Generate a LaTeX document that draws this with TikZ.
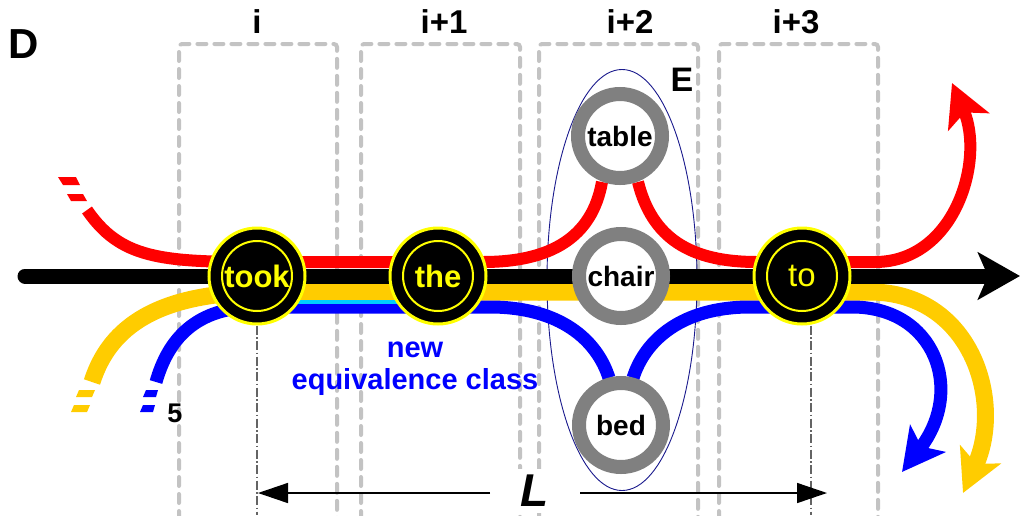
\documentclass[tikz,border=0pt]{standalone}
\usepackage{fontspec}
\setmainfont{Liberation Sans}
\usetikzlibrary{arrows.meta,shapes.geometric,calc}
\pgfdeclarelayer{back}
\pgfsetlayers{back,main}
\definecolor{lnred}{RGB}{255,0,0}
\definecolor{lnyel}{RGB}{255,204,0}
\definecolor{lnblue}{RGB}{0,0,255}
\definecolor{lncyan}{RGB}{0,204,255}
\definecolor{boxgray}{RGB}{195,195,195}
\definecolor{ringgray}{RGB}{128,128,128}
\definecolor{navyline}{RGB}{25,25,140}
\definecolor{wordyel}{RGB}{255,255,0}
\definecolor{dimgray}{RGB}{100,100,100}
\begin{document}
\begin{tikzpicture}[x=1pt,y=-1pt,
  colbox/.style={draw=boxgray,line width=4pt,dash pattern=on 9pt off 8pt,line cap=round,rounded corners=3pt},
  word/.style={circle,fill=black,draw=wordyel,line width=3pt,minimum size=96pt,inner sep=0pt,text=wordyel,font=\fontsize{31}{31}\selectfont\bfseries},
  innerring/.style={draw=wordyel,line width=2pt},
  alt/.style={circle,fill=white,draw=ringgray,line width=14pt,minimum size=84pt,inner sep=0pt,font=\fontsize{28}{28}\selectfont\bfseries},
  redlane/.style={draw=lnred,line width=12pt,line join=round},
  yellane/.style={draw=lnyel,line width=17pt,line join=round},
  bluelane/.style={draw=lnblue,line width=13pt,line join=round},
  cyanlane/.style={draw=lncyan,line width=3.5pt},
  blacklane/.style={draw=black,line width=15pt,line cap=round},
  bigtip/.style={-{Stealth[length=42pt,width=44pt,inset=10pt]}},
  dashdotline/.style={draw=dimgray,line width=1.3pt,dash pattern=on 9pt off 2.5pt on 1.5pt off 2.5pt},
  measure/.style={draw=black,line width=1.5pt,-{Triangle[length=30pt,width=20pt]}},
  collabel/.style={font=\fontsize{33}{33}\selectfont\bfseries},
  eqtext/.style={text=lnblue,font=\fontsize{29}{29}\selectfont\bfseries,inner sep=0pt}
]
\useasboundingbox (0,0) rectangle (1021,515);

% word nodes
\node[word] (took) at (257,276) {took};
\node[word] (the) at (438,276) {the};
\node[word,font=\fontsize{33}{33}\selectfont] (to) at (802,276) {to};
\draw[innerring] (took.center) circle[radius=35];
\draw[innerring] (the.center) circle[radius=35];
\draw[innerring] (to.center) circle[radius=35];

% alternatives
\node[alt] (table) at (620,136) {table};
\node[alt] (chair) at (621,276) {chair};
\node[alt] (bed) at (621,425) {bed};

% labels
\node[font=\fontsize{42}{42}\selectfont\bfseries] (D) at (24,44) {D};
\node[font=\fontsize{34}{34}\selectfont\bfseries] (E) at (682,80) {E};
\node[collabel] (ci) at (257,22) {i};
\node[collabel] (ci1) at (444,22) {i+1};
\node[collabel] (ci2) at (630,22) {i+2};
\node[collabel] (ci3) at (796,22) {i+3};
\node[font=\fontsize{27}{27}\selectfont\bfseries] (five) at (175,413) {5};
\node[eqtext,anchor=base] (neq1) at (415,357) {new};
\node[eqtext,anchor=base] (neq2) at (415,389) {equivalence class};
\node[fill=white,inner sep=0pt,minimum width=50pt,minimum height=44pt,font=\fontsize{46}{46}\selectfont\bfseries\itshape] (L) at (535,491) {L};

% free coordinates
\coordinate (floor) at (0,515);
\coordinate (rs) at (87,210);
\coordinate (ys) at (92,382);
\coordinate (bs) at (156,382);
\coordinate (ks) at (25,276);
\coordinate (ktip) at (1020,276);
\coordinate (rtip) at (952,83);
\coordinate (ytip) at (963,493);
\coordinate (btip) at (902,472);
\coordinate (Lleft) at (490,493);
\coordinate (Lright) at (580,493);
\coordinate (Ltipl) at (258,493);
\coordinate (Ltipr) at (827,493);

\begin{pgfonlayer}{back}
% column boxes
\draw[colbox] (179,520) -- (179,44) -- (337,44) -- (337,520);
\draw[colbox] (361,520) -- (361,44) -- (520,44) -- (520,520);
\draw[colbox] (539,520) -- (539,44) -- (698,44) -- (698,520);
\draw[colbox] (719,520) -- (719,44) -- (878,44) -- (878,520);
% equivalence ellipse
\node[ellipse,draw=navyline,line width=0.9pt,minimum width=150pt,minimum height=421pt,inner sep=0pt] (classE) at (622,280) {};
% dash-dot guides
\draw[dashdotline] (took.south) -- (took.south |- floor);
\draw[dashdotline] ($(to.south)+(9,0)$) -- ($(to.south |- floor)+(9,0)$);

% red lane
\fill[lnred] (58,177) -- (76,177) -- (80,185) -- (63,185) -- cycle;
\fill[lnred] (67,194) -- (83,194) -- (87,201) -- (71,201) -- cycle;
\draw[redlane] (rs) .. controls (120,258) and (160,262) .. ($(took.center)+(0,-14)$)
  -- ($(the.center)+(45,-14)$) .. controls (550,262) and (592,238) .. ($(table.center)+(-18,46)$);
\draw[redlane] ($(table.center)+(18,46)$) .. controls (652,238) and (690,262) .. ($(to.center)+(-45,-14)$)
  -- ($(to.center)+(0,-14)$);
\draw[redlane,bigtip] ($(to.center)+(0,-14)$) -- ($(to.center)+(73,-14)$) .. controls (955,262) and (985,160) .. (rtip);

% yellow lane
\fill[lnyel] (74,405) -- (90,405) -- (87,412) -- (71,412) -- cycle;
\fill[lnyel] (79,390) -- (95,390) -- (92,397) -- (76,397) -- cycle;
\draw[yellane,bigtip] (ys) .. controls (110,325) and (160,294) .. ($(took.center)+(0,16)$)
  -- ($(to.center)+(68,16)$) .. controls (970,292) and (1005,400) .. (ytip);

% blue lane
\fill[lnblue] (143,405) -- (155,405) -- (153,412) -- (140,412) -- cycle;
\fill[lnblue] (146,390) -- (158,390) -- (156,397) -- (143,397) -- cycle;
\draw[bluelane] (bs) .. controls (168,340) and (195,307) .. ($(took.center)+(0,31)$)
  -- ($(the.center)+(52,31)$) .. controls (560,307) and (597,340) .. ($(bed.center)+(-12,-47)$);
\draw[bluelane,bigtip] ($(bed.center)+(12,-47)$) .. controls (645,340) and (682,307) .. ($(to.center)+(-52,31)$)
  -- ($(to.center)+(50,31)$) .. controls (935,307) and (965,390) .. (btip);
\draw[cyanlane] ($(took.center)+(0,26)$) -- ($(the.center)+(0,26)$);

% main black timeline
\draw[blacklane,-{Stealth[length=42pt,width=47pt,inset=10pt]}] (ks) -- (ktip);

% length arrows
\draw[measure] (Lleft) -- (Ltipl);
\draw[measure] (Lright) -- (Ltipr);
\end{pgfonlayer}
\end{tikzpicture}
\end{document}
